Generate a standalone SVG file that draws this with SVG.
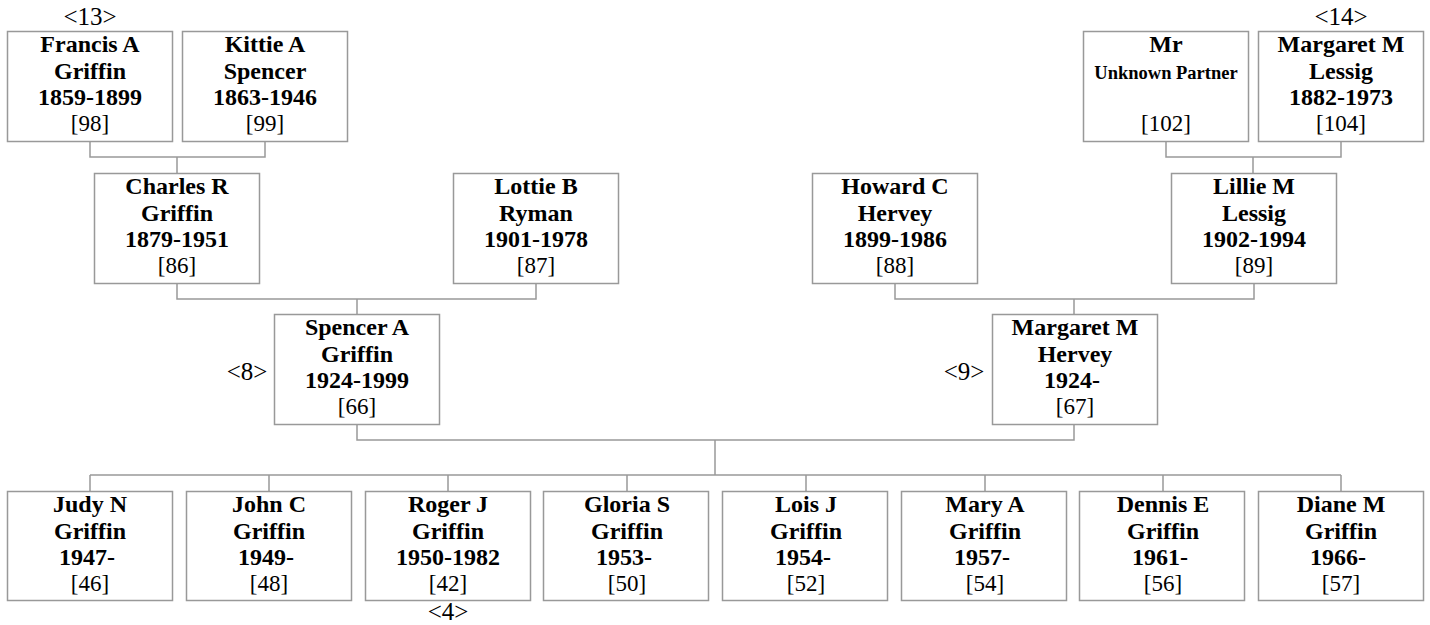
<svg xmlns="http://www.w3.org/2000/svg" width="1430" height="625" viewBox="0 0 1430 625">
<style>
.box{fill:#fff;stroke:#999;stroke-width:1.5}
.conn{fill:none;stroke:#999;stroke-width:1.5}
text{font-family:"Liberation Serif","Times New Roman",serif;fill:#000;text-anchor:middle}
.b{font-weight:bold;font-size:24px}
.s{font-weight:bold;font-size:18.5px}
.id{font-size:23px}
.tag{font-size:25px}
</style>
<rect width="1430" height="625" fill="#fff"/>
<g id="connectors">
<path class="conn" d="M90,141V157H265V141M177,157V173"/>
<path class="conn" d="M1166,141V157H1341V141M1253,157V173"/>
<path class="conn" d="M177,283V299H536V283M357,299V314"/>
<path class="conn" d="M895,283V299H1254V283M1074,299V315"/>
<path class="conn" d="M357,424V440H1074V424M715,440V475"/>
<path class="conn" d="M90,475H1341M90,475V491M269,475V491M448,475V491M627,475V491M806,475V491M985,475V491M1163,475V491M1341,475V491"/>
</g>
<g id="n98"><rect class="box" x="7.5" y="31.5" width="165" height="110"/>
<text class="b" x="90" y="52">Francis A</text><text class="b" x="90" y="79">Griffin</text><text class="b" x="90" y="105">1859-1899</text><text class="id" x="90" y="131">[98]</text></g>
<text class="tag" x="90" y="25">&lt;13&gt;</text>
<g id="n99"><rect class="box" x="182.5" y="31.5" width="165" height="110"/>
<text class="b" x="265" y="52">Kittie A</text><text class="b" x="265" y="79">Spencer</text><text class="b" x="265" y="105">1863-1946</text><text class="id" x="265" y="131">[99]</text></g>
<g id="n102"><rect class="box" x="1083.5" y="31.5" width="165" height="110"/>
<text class="b" x="1166" y="52">Mr</text><text class="s" x="1166" y="79">Unknown Partner</text><text class="id" x="1166" y="131">[102]</text></g>
<g id="n104"><rect class="box" x="1258.5" y="31.5" width="165" height="110"/>
<text class="b" x="1341" y="52">Margaret M</text><text class="b" x="1341" y="79">Lessig</text><text class="b" x="1341" y="105">1882-1973</text><text class="id" x="1341" y="131">[104]</text></g>
<text class="tag" x="1341" y="25">&lt;14&gt;</text>
<g id="n86"><rect class="box" x="94.5" y="173.5" width="165" height="110"/>
<text class="b" x="177" y="194">Charles R</text><text class="b" x="177" y="221">Griffin</text><text class="b" x="177" y="247">1879-1951</text><text class="id" x="177" y="273">[86]</text></g>
<g id="n87"><rect class="box" x="453.5" y="173.5" width="165" height="110"/>
<text class="b" x="536" y="194">Lottie B</text><text class="b" x="536" y="221">Ryman</text><text class="b" x="536" y="247">1901-1978</text><text class="id" x="536" y="273">[87]</text></g>
<g id="n88"><rect class="box" x="812.5" y="173.5" width="165" height="110"/>
<text class="b" x="895" y="194">Howard C</text><text class="b" x="895" y="221">Hervey</text><text class="b" x="895" y="247">1899-1986</text><text class="id" x="895" y="273">[88]</text></g>
<g id="n89"><rect class="box" x="1171.5" y="173.5" width="165" height="110"/>
<text class="b" x="1254" y="194">Lillie M</text><text class="b" x="1254" y="221">Lessig</text><text class="b" x="1254" y="247">1902-1994</text><text class="id" x="1254" y="273">[89]</text></g>
<g id="n66"><rect class="box" x="274.5" y="314.5" width="165" height="110"/>
<text class="b" x="357" y="335">Spencer A</text><text class="b" x="357" y="362">Griffin</text><text class="b" x="357" y="388">1924-1999</text><text class="id" x="357" y="414">[66]</text></g>
<text class="tag" x="247" y="380">&lt;8&gt;</text>
<g id="n67"><rect class="box" x="992.5" y="314.5" width="165" height="110"/>
<text class="b" x="1075" y="335">Margaret M</text><text class="b" x="1075" y="362">Hervey</text><text class="b" x="1072" y="388">1924-</text><text class="id" x="1075" y="414">[67]</text></g>
<text class="tag" x="964" y="380">&lt;9&gt;</text>
<g id="n46"><rect class="box" x="7.5" y="491.5" width="165" height="109"/>
<text class="b" x="90" y="512">Judy N</text><text class="b" x="90" y="539">Griffin</text><text class="b" x="87" y="565">1947-</text><text class="id" x="90" y="591">[46]</text></g>
<g id="n48"><rect class="box" x="186.5" y="491.5" width="165" height="109"/>
<text class="b" x="269" y="512">John C</text><text class="b" x="269" y="539">Griffin</text><text class="b" x="266" y="565">1949-</text><text class="id" x="269" y="591">[48]</text></g>
<g id="n42"><rect class="box" x="365.5" y="491.5" width="165" height="109"/>
<text class="b" x="448" y="512">Roger J</text><text class="b" x="448" y="539">Griffin</text><text class="b" x="448" y="565">1950-1982</text><text class="id" x="448" y="591">[42]</text></g>
<text class="tag" x="448" y="620">&lt;4&gt;</text>
<g id="n50"><rect class="box" x="543.5" y="491.5" width="165" height="109"/>
<text class="b" x="627" y="512">Gloria S</text><text class="b" x="627" y="539">Griffin</text><text class="b" x="624" y="565">1953-</text><text class="id" x="627" y="591">[50]</text></g>
<g id="n52"><rect class="box" x="722.5" y="491.5" width="165" height="109"/>
<text class="b" x="806" y="512">Lois J</text><text class="b" x="806" y="539">Griffin</text><text class="b" x="803" y="565">1954-</text><text class="id" x="806" y="591">[52]</text></g>
<g id="n54"><rect class="box" x="901.5" y="491.5" width="165" height="109"/>
<text class="b" x="985" y="512">Mary A</text><text class="b" x="985" y="539">Griffin</text><text class="b" x="982" y="565">1957-</text><text class="id" x="985" y="591">[54]</text></g>
<g id="n56"><rect class="box" x="1079.5" y="491.5" width="165" height="109"/>
<text class="b" x="1163" y="512">Dennis E</text><text class="b" x="1163" y="539">Griffin</text><text class="b" x="1160" y="565">1961-</text><text class="id" x="1163" y="591">[56]</text></g>
<g id="n57"><rect class="box" x="1258.5" y="491.5" width="165" height="109"/>
<text class="b" x="1341" y="512">Diane M</text><text class="b" x="1341" y="539">Griffin</text><text class="b" x="1338" y="565">1966-</text><text class="id" x="1341" y="591">[57]</text></g>
</svg>
